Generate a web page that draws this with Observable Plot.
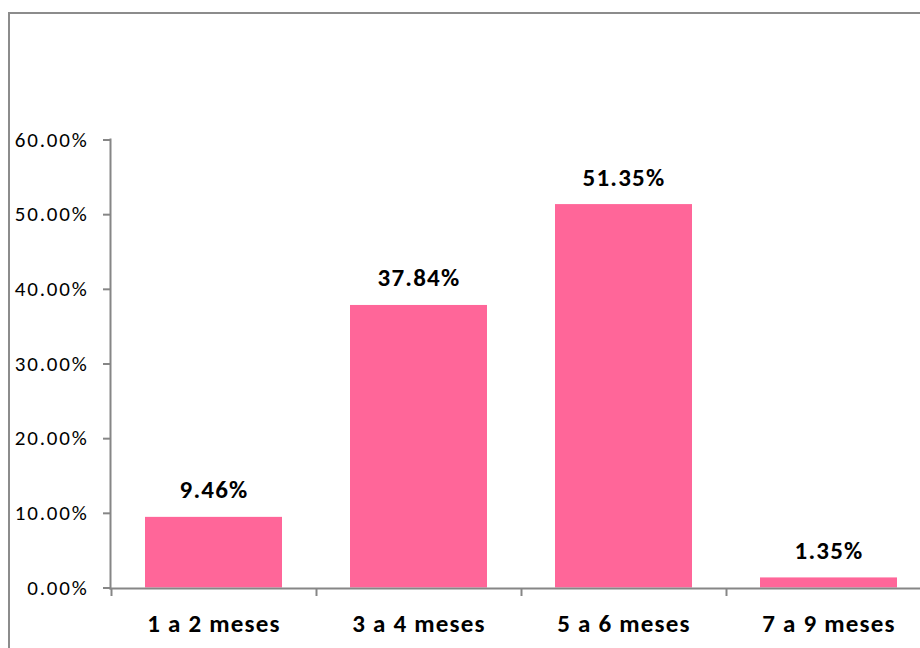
<!DOCTYPE html>
<html>
<head>
<meta charset="utf-8">
<script src="https://cdn.jsdelivr.net/npm/d3@7"></script>
<script src="https://cdn.jsdelivr.net/npm/@observablehq/plot@0.6"></script>
<style>
  html, body { margin: 0; padding: 0; background: #fff; overflow: hidden; }
  #wrap { position: relative; width: 920px; height: 648px; }
  #border { position: absolute; left: 8px; top: 12px; width: 940px; height: 700px;
            border: 2px solid #8c8c8c; pointer-events: none; box-sizing: border-box; }
  g[aria-label="y-axis tick label"] text { letter-spacing: 1.8px; }
  g[aria-label="x-axis tick label"] text { letter-spacing: 1.2px; }
  g[aria-label="text"] text { letter-spacing: 1.2px; }
</style>
</head>
<body>
<div id="wrap"><div id="border"></div></div>
<script>
const categories = ["1 a 2 meses", "3 a 4 meses", "5 a 6 meses", "7 a 9 meses"];
const values = [0.0946, 0.3784, 0.5135, 0.0135];
const yTicks = [0, 0.1, 0.2, 0.3, 0.4, 0.5, 0.6];

const data = categories.map((c, i) => ({category: c, value: values[i]}));
const fontFamily = "Carlito, Lato, 'Open Sans', sans-serif";
const pct = d3.format(".2%");

const chart = Plot.plot({
  width: 920,
  height: 648,
  marginLeft: 110,
  marginTop: 139,
  marginBottom: 60,
  marginRight: 0,
  style: {fontFamily, background: "transparent", overflow: "visible"},
  x: {domain: categories, range: [110.5, 930.5], paddingInner: 0.334, paddingOuter: 0.167, axis: null, label: null},
  y: {domain: [0, 0.6], range: [587.5, 139.5], axis: null, label: null},
  marks: [
    Plot.barY(data, {x: "category", y: "value", fill: "#FF6699"}),
    Plot.frame({anchor: "left", stroke: "#868686", strokeWidth: 2}),
    Plot.frame({anchor: "bottom", stroke: "#868686", strokeWidth: 2}),
    Plot.axisY({ticks: yTicks, tickFormat: pct, tickSize: 7, tickPadding: 15, label: null,
                fontSize: 21, stroke: "#868686", strokeWidth: 2, fill: "#000"}),
    Plot.axisX({ticks: categories, tickSize: 8, tickFormat: () => "", dx: -102.5, label: null,
                stroke: "#868686", strokeWidth: 2}),
    Plot.axisX({ticks: categories, tickSize: 0, tickPadding: 26, fontSize: 25, label: null,
                fontWeight: "bold", fill: "#000"}),
    Plot.text(data, {x: "category", y: "value", text: d => pct(d.value), dy: -19,
                     lineAnchor: "bottom", fontSize: 25, fontWeight: "bold", fill: "#000"})
  ]
});
document.getElementById("wrap").prepend(chart);
</script>
</body>
</html>
